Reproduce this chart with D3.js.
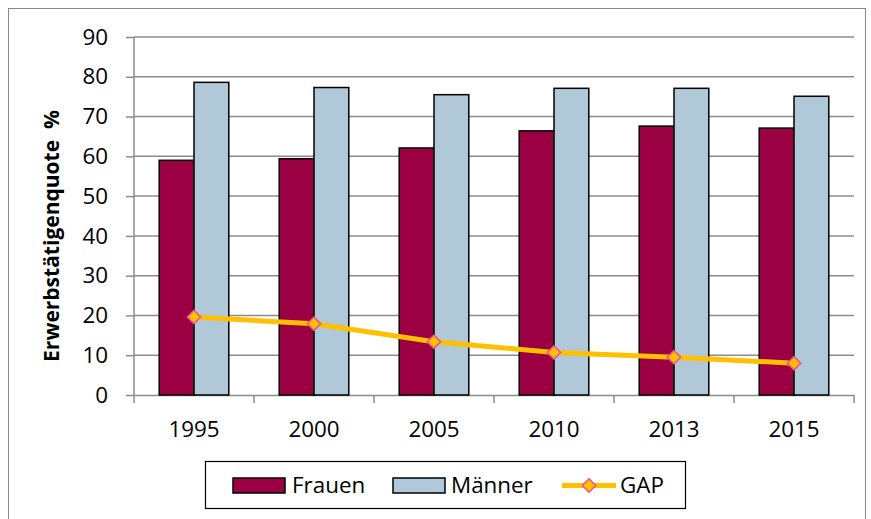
<!DOCTYPE html>
<html><head><meta charset="utf-8">
<script src="https://cdn.jsdelivr.net/npm/d3@7"></script>
<style>body{margin:0;background:#fff}svg{display:block}</style>
</head><body>
<svg id="c" width="871" height="519"></svg>
<script>
const years = ["1995","2000","2005","2010","2013","2015"];
const frauen = [59.0, 59.4, 62.1, 66.4, 67.6, 67.1];
const maenner = [78.6, 77.3, 75.5, 77.1, 77.1, 75.1];
const gap = [19.6, 17.9, 13.4, 10.7, 9.5, 8.0];
const yTicks = [0,10,20,30,40,50,60,70,80,90];
const seriesNames = ["Frauen","Männer","GAP"];

const colF = "#9B0042", colM = "#B0C8D8", colG = "#FFC000", colMk = "#F0508C";
const font = "'Open Sans', sans-serif";
const fs = 22.4;

const svg = d3.select("#c");
const L = 134, R = 854, T = 37, B = 395;

svg.append("rect").attr("x",8.5).attr("y",8.5).attr("width",857).attr("height",520)
  .attr("fill","none").attr("stroke","#888").attr("stroke-width",1);

const x = d3.scaleBand().domain(years).range([L,R]).paddingInner(0.42).paddingOuter(0.21);
const xc = d3.scaleBand().domain(years).range([L,R]);
const y = d3.scaleLinear().domain([0,90]).range([B,T]);

// gridlines
svg.append("g").selectAll("line").data(yTicks.filter(d=>d>0)).join("line")
  .attr("x1",L).attr("x2",R).attr("y1",d=>y(d)).attr("y2",d=>y(d))
  .attr("stroke","#8c8c8c").attr("stroke-width",1.5);

// y axis
const ya = svg.append("g").attr("transform",`translate(${L},0)`)
  .call(d3.axisLeft(y).tickValues(yTicks).tickSize(8).tickPadding(18));
ya.select(".domain").attr("stroke","#8c8c8c").attr("stroke-width",1.5).attr("d",`M-0,${T}V${B}`);
ya.selectAll(".tick line").attr("stroke","#8c8c8c").attr("stroke-width",1.5);
ya.selectAll("text").attr("font-family",font).attr("font-size",fs).attr("fill","#000");

// x axis
const xa = svg.append("g").attr("transform",`translate(0,${B})`)
  .call(d3.axisBottom(xc).tickSize(0).tickPadding(26));
xa.select(".domain").attr("stroke","#8c8c8c").attr("stroke-width",1.5);
xa.selectAll("text").attr("font-family",font).attr("font-size",fs).attr("fill","#000");
svg.append("g").selectAll("line").data(years.concat(["end"])).join("line")
  .attr("x1",(d,i)=>L+i*xc.step()).attr("x2",(d,i)=>L+i*xc.step())
  .attr("y1",B).attr("y2",B+8).attr("stroke","#8c8c8c").attr("stroke-width",1.5);

// bars
const bw = x.bandwidth()/2;
svg.append("g").selectAll("rect").data(frauen).join("rect")
  .attr("x",(d,i)=>x(years[i])).attr("y",d=>y(d)).attr("width",bw).attr("height",d=>B-y(d))
  .attr("fill",colF).attr("stroke","#000").attr("stroke-width",1.5);
svg.append("g").selectAll("rect").data(maenner).join("rect")
  .attr("x",(d,i)=>x(years[i])+bw).attr("y",d=>y(d)).attr("width",bw).attr("height",d=>B-y(d))
  .attr("fill",colM).attr("stroke","#000").attr("stroke-width",1.5);

// GAP line
const cx = i => xc(years[i]) + xc.bandwidth()/2;
svg.append("path").datum(gap)
  .attr("d", d3.line().x((d,i)=>cx(i)).y(d=>y(d)))
  .attr("fill","none").attr("stroke",colG).attr("stroke-width",5);
const diamond = d3.symbol().type(d3.symbolDiamond2).size(115);
svg.append("g").selectAll("path").data(gap).join("path")
  .attr("d",diamond).attr("transform",(d,i)=>`translate(${cx(i)},${y(d)})`)
  .attr("fill",colG).attr("stroke",colMk).attr("stroke-width",1.5);

// y title
svg.append("text").attr("transform",`translate(59,236) rotate(-90)`)
  .attr("text-anchor","middle").attr("font-family",font).attr("font-weight","bold")
  .attr("font-size",21).attr("xml:space","preserve").style("white-space","pre")
  .text("Erwerbstätigenquote  %");

// legend
const lg = svg.append("g");
lg.append("rect").attr("x",205.5).attr("y",461.5).attr("width",480).attr("height",47)
  .attr("fill","#fff").attr("stroke","#000").attr("stroke-width",1.2);
const ly = 485.5;
lg.append("rect").attr("x",233).attr("y",478).attr("width",52).attr("height",15)
  .attr("fill",colF).attr("stroke","#000").attr("stroke-width",1.5);
lg.append("text").attr("x",292).attr("y",493).attr("font-family",font).attr("font-size",fs).text(seriesNames[0]);
lg.append("rect").attr("x",393).attr("y",478).attr("width",52).attr("height",15)
  .attr("fill",colM).attr("stroke","#000").attr("stroke-width",1.5);
lg.append("text").attr("x",451).attr("y",493).attr("font-family",font).attr("font-size",fs).text(seriesNames[1]);
lg.append("line").attr("x1",562).attr("x2",616).attr("y1",ly).attr("y2",ly)
  .attr("stroke",colG).attr("stroke-width",5);
lg.append("path").attr("d",diamond).attr("transform",`translate(589,${ly})`)
  .attr("fill",colG).attr("stroke",colMk).attr("stroke-width",1.5);
lg.append("text").attr("x",620).attr("y",493).attr("font-family",font).attr("font-size",fs).text(seriesNames[2]);
</script>
</body></html>
